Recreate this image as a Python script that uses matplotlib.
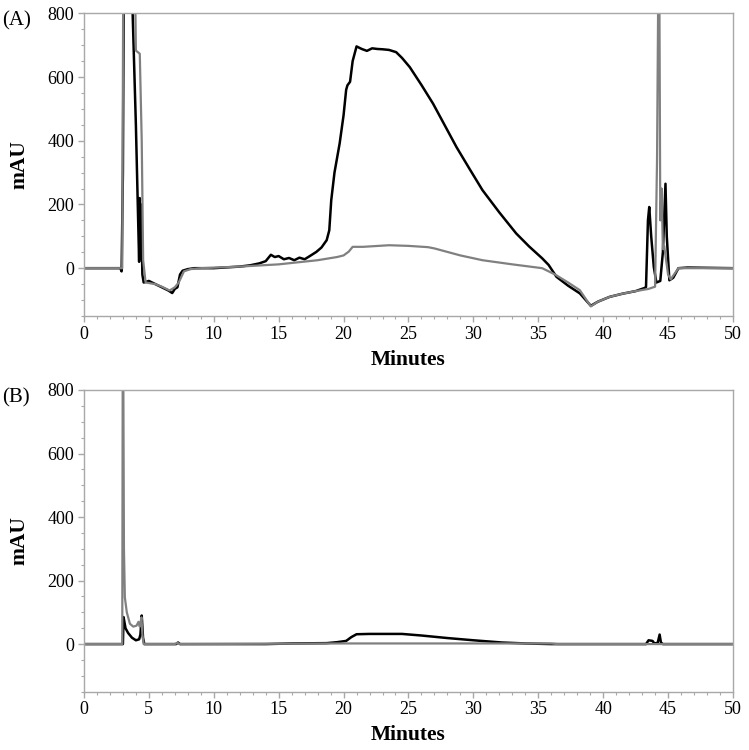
import matplotlib
matplotlib.use("Agg")
import matplotlib.pyplot as plt
from matplotlib.ticker import MultipleLocator

plt.rcParams["font.family"] = ["Liberation Serif", "DejaVu Serif"]

# panel A, black trace (minutes, mAU)
a_black_t = [0, 2.8, 2.9, 3.0, 3.1, 3.6, 3.75, 4.0, 4.25, 4.3, 4.35, 4.4, 4.5, 4.6, 5.0,
             5.5, 6.0, 6.5, 6.8, 7.0, 7.2, 7.4, 7.6, 8.0, 8.5, 10, 12, 12.8, 13.5, 14.0,
             14.4, 14.7, 15.0, 15.4, 15.8, 16.2, 16.6, 17.0, 17.4, 17.9, 18.3, 18.7, 18.9,
             19.05, 19.3, 19.7, 20.0, 20.2, 20.3, 20.5, 20.7, 21.0, 21.4, 21.8, 22.2, 22.6,
             23.0, 23.5, 24.05, 24.5, 25.1, 26.0, 26.9, 27.8, 28.7, 29.7, 30.7, 32.0, 33.3,
             34.3, 35.3, 35.8, 36.4, 37.3, 38.2, 39.05, 39.6, 40.5, 41.5, 42.5, 43.2, 43.3,
             43.45, 43.55, 43.7, 43.9, 44.1, 44.4, 44.6, 44.8, 44.9, 45.1, 45.4, 45.8, 46.5, 50]
a_black_y = [0, 0, -10, 300, 1200, 1200, 800, 450, 20, 220, 30, 200, -20, -45, -40,
             -50, -60, -70, -78, -65, -60, -20, -8, -3, 0, 0, 5, 9, 15, 22,
             42, 35, 38, 28, 32, 25, 33, 28, 38, 51, 65, 88, 119,
             213, 300, 392, 480, 560, 574, 585, 650, 696, 688, 682, 690, 688,
             687, 685, 678, 660, 631, 575, 516, 448, 380, 312, 245, 175, 109,
             68, 31, 10, -27, -55, -79, -118, -105, -90, -80, -72, -62, -59,
             150, 192, 100, 4, -45, -40, 50, 265, 100, -38, -30, 0, 2, 0]

# panel A, gray trace
a_gray_t = [0, 2.95, 3.05, 3.85, 4.0, 4.3, 4.45, 4.56, 4.75, 5.5, 6.0, 6.6, 7.0, 7.3, 7.7,
            8.2, 9, 12, 15, 18, 19.5, 20.0, 20.4, 20.7, 21.5, 23.5, 25, 26.5, 27.0, 29,
            30.7, 33, 35.3, 36.3, 37.3, 38.2, 39.05, 39.6, 40.5, 41.5, 42.5, 43.5, 44.0,
            44.15, 44.3, 44.4, 44.5, 44.6, 44.7, 44.8, 45.0, 45.2, 45.8, 50]
a_gray_y = [0, 0, 1200, 1200, 683, 673, 400, 25, -45, -50, -58, -70, -60, -45, -10,
            -3, 0, 5, 12, 25, 35, 40, 52, 67, 67, 72, 70, 66, 62, 40,
            25, 12, 0, -20, -45, -69, -120, -105, -90, -80, -72, -65, -58,
            340, 1200, 150, 250, 60, 70, 40, -20, -35, 0, 0]

# panel B, black trace
b_black_t = [0, 3.0, 3.05, 3.2, 3.4, 3.7, 4.0, 4.25, 4.35, 4.45, 4.55, 4.65, 7.1, 7.25,
             7.4, 14, 16, 18.7, 19.5, 20.2, 20.6, 21.0, 22, 24.5, 26, 28, 30, 32.2, 34,
             36, 43.3, 43.5, 43.8, 43.95, 44.2, 44.35, 44.45, 44.6, 50]
b_black_y = [0, 0, 85, 50, 35, 20, 12, 15, 30, 90, 20, 0, 0, 5,
             0, 0, 2, 3, 6, 10, 22, 31, 32, 32, 27, 19, 12, 5, 2,
             0, 0, 12, 10, 2, 4, 30, 5, 0, 0]

# panel B, gray trace
b_gray_t = [0, 2.95, 3.0, 3.08, 3.15, 3.3, 3.54, 3.8, 4.05, 4.2, 4.3, 4.43, 4.5, 4.6,
            7.0, 7.2, 7.4, 20, 36, 36.5, 50]
b_gray_y = [0, 0, 1200, 300, 147, 100, 64, 55, 58, 70, 55, 84, 30, 0,
            0, 4, 0, 2, 2, 0, 0]

panels = [
    ("(A)", a_black_t, a_black_y, a_gray_t, a_gray_y),
    ("(B)", b_black_t, b_black_y, b_gray_t, b_gray_y),
]
x_ticks = [0, 5, 10, 15, 20, 25, 30, 35, 40, 45, 50]
y_ticks = [0, 200, 400, 600, 800]

fig = plt.figure(figsize=(7.49, 7.5), dpi=100)
rects = [[0.1121, 0.5787, 0.8665, 0.4036], [0.1121, 0.0777, 0.8665, 0.4023]]
spine_col = "#a8a8a8"

for rect, (tag, bt, by, gt, gy) in zip(rects, panels):
    ax = fig.add_axes(rect)
    ax.plot(bt, by, color="black", lw=1.8, solid_joinstyle="round")
    ax.plot(gt, gy, color="#808080", lw=1.6, solid_joinstyle="round")
    ax.set_xlim(0, 50)
    ax.set_ylim(-150, 800)
    ax.set_xticks(x_ticks)
    ax.set_yticks(y_ticks)
    ax.xaxis.set_minor_locator(MultipleLocator(1))
    ax.yaxis.set_minor_locator(MultipleLocator(50))
    for s in ax.spines.values():
        s.set_color(spine_col)
        s.set_linewidth(1.0)
    ax.tick_params(which="major", direction="out", length=4, width=1,
                   color=spine_col, labelsize=13, pad=3)
    ax.tick_params(which="minor", direction="out", length=2, width=0.8, color=spine_col)
    ax.set_xlabel("Minutes", fontsize=15.5, fontweight="bold", labelpad=5)
    ax.set_ylabel("mAU", fontsize=15.5, fontweight="bold", labelpad=13)
    ax.text(-0.126, 0.975, tag, transform=ax.transAxes, fontsize=15,
            ha="left", va="center")

fig.savefig("out.png", dpi=100)
